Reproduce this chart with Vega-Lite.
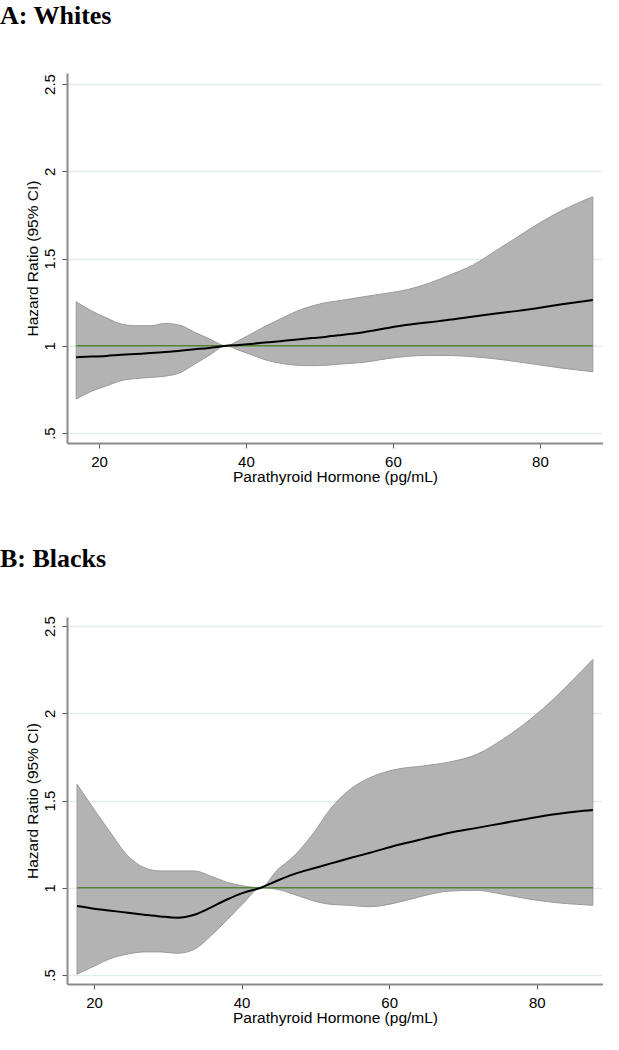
{
  "$schema": "https://vega.github.io/schema/vega-lite/v6.json",
  "padding": {"left": 0, "top": 3, "right": 0, "bottom": 0},
  "background": "white",
  "spacing": 60,
  "config": {
    "view": {"stroke": null},
    "font": "Liberation Sans",
    "title": {"font": "Liberation Serif", "fontSize": 26, "fontWeight": "bold", "anchor": "start", "frame": "group", "dx": -67, "offset": 44, "color": "#000000"},
    "axis": {"domainColor": "#8a8a8a", "domainWidth": 2, "tickColor": "#555555", "tickWidth": 1, "tickSize": 5, "labelFont": "Liberation Sans", "labelFontSize": 15, "labelColor": "#000000", "titleFont": "Liberation Sans", "titleFontSize": 15.5, "titleFontWeight": "normal", "titleColor": "#000000"},
    "axisX": {"grid": false, "labelPadding": 6, "titlePadding": 0},
    "axisY": {"grid": true, "gridColor": "#e2eded", "gridWidth": 1.5, "labelAngle": 270, "labelAlign": "center", "labelBaseline": "bottom", "labelPadding": 5, "titlePadding": 2}
  },
  "datasets": {
    "whites": [
      {"x": 16.9, "lo": 0.695, "hi": 1.252, "hr": 0.935},
      {"x": 19, "lo": 0.74, "hi": 1.2, "hr": 0.938},
      {"x": 21, "lo": 0.77, "hi": 1.16, "hr": 0.942},
      {"x": 23, "lo": 0.8, "hi": 1.125, "hr": 0.948},
      {"x": 25, "lo": 0.812, "hi": 1.115, "hr": 0.953},
      {"x": 27, "lo": 0.819, "hi": 1.115, "hr": 0.958},
      {"x": 29, "lo": 0.826, "hi": 1.128, "hr": 0.964},
      {"x": 31, "lo": 0.845, "hi": 1.118, "hr": 0.972},
      {"x": 33, "lo": 0.895, "hi": 1.078, "hr": 0.98},
      {"x": 35, "lo": 0.945, "hi": 1.04, "hr": 0.988},
      {"x": 37.3, "lo": 1.0, "hi": 1.0, "hr": 1.0},
      {"x": 39, "lo": 0.975, "hi": 1.03, "hr": 1.005},
      {"x": 41, "lo": 0.945, "hi": 1.075, "hr": 1.012},
      {"x": 43, "lo": 0.915, "hi": 1.12, "hr": 1.02},
      {"x": 45, "lo": 0.898, "hi": 1.16, "hr": 1.028},
      {"x": 47, "lo": 0.888, "hi": 1.2, "hr": 1.036},
      {"x": 49, "lo": 0.886, "hi": 1.228, "hr": 1.044},
      {"x": 51, "lo": 0.889, "hi": 1.248, "hr": 1.052},
      {"x": 53, "lo": 0.896, "hi": 1.26, "hr": 1.062},
      {"x": 56, "lo": 0.905, "hi": 1.281, "hr": 1.078},
      {"x": 59, "lo": 0.925, "hi": 1.3, "hr": 1.1},
      {"x": 62, "lo": 0.94, "hi": 1.322, "hr": 1.12},
      {"x": 65, "lo": 0.945, "hi": 1.36, "hr": 1.135},
      {"x": 68, "lo": 0.944, "hi": 1.41, "hr": 1.15},
      {"x": 71, "lo": 0.937, "hi": 1.465, "hr": 1.168},
      {"x": 74, "lo": 0.925, "hi": 1.545, "hr": 1.185},
      {"x": 77, "lo": 0.908, "hi": 1.625, "hr": 1.2},
      {"x": 80, "lo": 0.89, "hi": 1.705, "hr": 1.218},
      {"x": 83, "lo": 0.872, "hi": 1.775, "hr": 1.238},
      {"x": 85, "lo": 0.862, "hi": 1.815, "hr": 1.25},
      {"x": 87.2, "lo": 0.851, "hi": 1.854, "hr": 1.262}
    ],
    "blacks": [
      {"x": 17.7, "lo": 0.504, "hi": 1.593, "hr": 0.895},
      {"x": 20, "lo": 0.55, "hi": 1.45, "hr": 0.88},
      {"x": 22, "lo": 0.59, "hi": 1.33, "hr": 0.87},
      {"x": 24.6, "lo": 0.62, "hi": 1.182, "hr": 0.856},
      {"x": 26.8, "lo": 0.632, "hi": 1.115, "hr": 0.845},
      {"x": 29, "lo": 0.632, "hi": 1.096, "hr": 0.835},
      {"x": 31.3, "lo": 0.624, "hi": 1.096, "hr": 0.828},
      {"x": 33.6, "lo": 0.647, "hi": 1.096, "hr": 0.845},
      {"x": 35.8, "lo": 0.723, "hi": 1.067, "hr": 0.886},
      {"x": 38.1, "lo": 0.819, "hi": 1.03, "hr": 0.934},
      {"x": 40.3, "lo": 0.914, "hi": 1.01, "hr": 0.972},
      {"x": 42.6, "lo": 1.0, "hi": 1.0, "hr": 1.0},
      {"x": 44.8, "lo": 0.991, "hi": 1.1, "hr": 1.04},
      {"x": 47.1, "lo": 0.962, "hi": 1.182, "hr": 1.078},
      {"x": 49.8, "lo": 0.924, "hi": 1.316, "hr": 1.112},
      {"x": 52, "lo": 0.905, "hi": 1.45, "hr": 1.138},
      {"x": 54.7, "lo": 0.899, "hi": 1.564, "hr": 1.17},
      {"x": 57.4, "lo": 0.891, "hi": 1.631, "hr": 1.2},
      {"x": 61, "lo": 0.914, "hi": 1.679, "hr": 1.243},
      {"x": 64.6, "lo": 0.953, "hi": 1.698, "hr": 1.28},
      {"x": 68.2, "lo": 0.981, "hi": 1.721, "hr": 1.315},
      {"x": 71.9, "lo": 0.985, "hi": 1.765, "hr": 1.343},
      {"x": 75.4, "lo": 0.962, "hi": 1.851, "hr": 1.37},
      {"x": 79.1, "lo": 0.934, "hi": 1.965, "hr": 1.398},
      {"x": 82.7, "lo": 0.914, "hi": 2.099, "hr": 1.422},
      {"x": 85.4, "lo": 0.905, "hi": 2.213, "hr": 1.437},
      {"x": 87.6, "lo": 0.899, "hi": 2.309, "hr": 1.446}
    ]
  },
  "vconcat": [
    {
      "title": "A: Whites",
      "width": 536,
      "height": 370,
      "data": {"name": "whites"},
      "layer": [
        {
          "mark": {"type": "area", "color": "#b3b3b3", "stroke": "#9a9a9a", "strokeWidth": 1, "interpolate": "monotone"},
          "encoding": {
            "x": {"field": "x", "type": "quantitative", "scale": {"domain": [15.65, 88.58], "nice": false, "zero": false}, "axis": {"values": [20, 40, 60, 80], "title": "Parathyroid Hormone (pg/mL)"}},
            "y": {"field": "lo", "type": "quantitative", "scale": {"domain": [0.443, 2.563], "nice": false, "zero": false}, "axis": {"values": [0.5, 1, 1.5, 2, 2.5], "format": "~g", "labelExpr": "datum.value == 0.5 ? '.5' : datum.label", "title": "Hazard Ratio (95% CI)"}},
            "y2": {"field": "hi"}
          }
        },
        {
          "mark": {"type": "line", "color": "#548235", "strokeWidth": 1.5},
          "encoding": {
            "x": {"field": "x", "type": "quantitative"},
            "y": {"datum": 1}
          }
        },
        {
          "mark": {"type": "line", "color": "#000000", "strokeWidth": 2, "interpolate": "monotone"},
          "encoding": {
            "x": {"field": "x", "type": "quantitative"},
            "y": {"field": "hr", "type": "quantitative"}
          }
        }
      ]
    },
    {
      "title": "B: Blacks",
      "width": 536,
      "height": 367,
      "data": {"name": "blacks"},
      "layer": [
        {
          "mark": {"type": "area", "color": "#b3b3b3", "stroke": "#9a9a9a", "strokeWidth": 1, "interpolate": "monotone"},
          "encoding": {
            "x": {"field": "x", "type": "quantitative", "scale": {"domain": [16.34, 88.97], "nice": false, "zero": false}, "axis": {"values": [20, 40, 60, 80], "title": "Parathyroid Hormone (pg/mL)"}},
            "y": {"field": "lo", "type": "quantitative", "scale": {"domain": [0.448, 2.552], "nice": false, "zero": false}, "axis": {"values": [0.5, 1, 1.5, 2, 2.5], "format": "~g", "labelExpr": "datum.value == 0.5 ? '.5' : datum.label", "title": "Hazard Ratio (95% CI)"}},
            "y2": {"field": "hi"}
          }
        },
        {
          "mark": {"type": "line", "color": "#548235", "strokeWidth": 1.5},
          "encoding": {
            "x": {"field": "x", "type": "quantitative"},
            "y": {"datum": 1}
          }
        },
        {
          "mark": {"type": "line", "color": "#000000", "strokeWidth": 2, "interpolate": "monotone"},
          "encoding": {
            "x": {"field": "x", "type": "quantitative"},
            "y": {"field": "hr", "type": "quantitative"}
          }
        }
      ]
    }
  ]
}
